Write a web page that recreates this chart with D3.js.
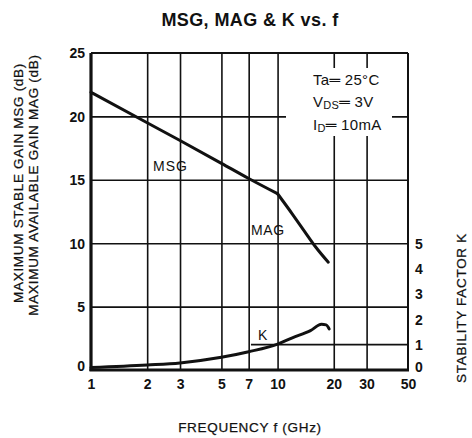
<!DOCTYPE html>
<html>
<head>
<meta charset="utf-8">
<script src="https://cdn.jsdelivr.net/npm/d3@7"></script>
<style>
    body { margin: 0; background: #fff; }
    svg { display: block; font-family: "Liberation Sans", Arial, Helvetica, sans-serif; }
    .tick-label { font-size: 14px; font-weight: bold; fill: #111; }
    .axis-title { font-size: 13.5px; fill: #111; letter-spacing: 0.7px; stroke: #111; stroke-width: 0.25px; }
    .curve { fill: none; stroke: #111; stroke-width: 3px; stroke-linejoin: round; stroke-linecap: round; }
    .grid line { stroke: #111; stroke-width: 1.6px; }
    .note { font-size: 14px; fill: #111; }
    .cond { font-size: 15px; fill: #111; letter-spacing: 0.3px; }
</style>
</head>
<body>
<div id="chart"></div>
<script>

// tick values
const freqTicks = [1, 2, 3, 5, 7, 10, 20, 30, 50];
const gainTicks = [0, 5, 10, 15, 20, 25];
const kTicks = [0, 1, 2, 3, 4, 5];

// MSG (dB) vs frequency (GHz)
const msgFreq = [1, 2, 3, 5, 7, 10];
const msgGain = [21.9, 19.5, 18.1, 16.3, 15.1, 13.9];

// MAG (dB) vs frequency (GHz)
const magFreq = [10, 12, 14, 16, 18.7];
const magGain = [13.9, 12.3, 10.9, 9.7, 8.5];

// stability factor K vs frequency (GHz)
const kFreq = [1, 2, 3, 5, 7, 10, 12, 15, 17.2, 18.2, 18.9];
const kVal = [0.1, 0.2, 0.28, 0.5, 0.72, 1.02, 1.27, 1.55, 1.8, 1.78, 1.62];

// partial reference line at K = 1 starts here (GHz)
const kRefStart = 7.2;

const width = 472, height = 438;
const margin = {top: 53, right: 64, bottom: 68, left: 91};

const svg = d3.select("#chart").append("svg")
    .attr("width", width)
    .attr("height", height);

svg.append("rect").attr("width", width).attr("height", height).attr("fill", "#fff");

const x = d3.scaleLog()
    .domain([1, 50])
    .range([margin.left, width - margin.right]);

const y = d3.scaleLinear()
    .domain([0, 25])
    .range([height - margin.bottom, margin.top]);

// K uses the lower part of the plot: 0..5 over 0..10 dB
const yK = d3.scaleLinear()
    .domain([0, 5])
    .range([y(0), y(10)]);

const plotW = x(50) - x(1);
const plotH = y(0) - y(25);

// vertical grid
svg.append("g")
    .attr("class", "grid")
    .attr("transform", "translate(0," + y(0) + ")")
    .call(d3.axisBottom(x).tickValues(freqTicks.slice(1, -1)).tickSize(-plotH).tickFormat(""))
    .call(g => g.select(".domain").remove());

// horizontal grid
svg.append("g")
    .attr("class", "grid")
    .attr("transform", "translate(" + x(1) + ",0)")
    .call(d3.axisLeft(y).tickValues(gainTicks.slice(1, -1)).tickSize(-plotW).tickFormat(""))
    .call(g => g.select(".domain").remove());

// K = 1 reference segment
svg.append("line")
    .attr("x1", x(kRefStart)).attr("x2", x(50))
    .attr("y1", yK(1)).attr("y2", yK(1))
    .attr("stroke", "#111").attr("stroke-width", 1.6);

// blank area behind the conditions note
svg.append("rect")
    .attr("x", 286).attr("y", 68)
    .attr("width", 106).attr("height", 68)
    .attr("fill", "#fff");

// frame
svg.append("line").attr("x1", x(1)).attr("x2", x(50)).attr("y1", y(25)).attr("y2", y(25))
    .attr("stroke", "#111").attr("stroke-width", 2.2);
svg.append("line").attr("x1", x(50)).attr("x2", x(50)).attr("y1", y(25)).attr("y2", y(0))
    .attr("stroke", "#111").attr("stroke-width", 2);
svg.append("line").attr("x1", x(1)).attr("x2", x(1)).attr("y1", y(25)).attr("y2", y(0) + 1)
    .attr("stroke", "#111").attr("stroke-width", 3.2);
svg.append("line").attr("x1", x(1) - 1.5).attr("x2", x(50) + 1).attr("y1", y(0)).attr("y2", y(0))
    .attr("stroke", "#111").attr("stroke-width", 3.2);

// axis labels
const xAxis = svg.append("g")
    .attr("transform", "translate(0," + y(0) + ")")
    .call(d3.axisBottom(x).tickValues(freqTicks).tickFormat(d3.format("d")).tickSize(0).tickPadding(9));
xAxis.select(".domain").remove();
xAxis.selectAll("text").attr("class", "tick-label").attr("font-size", null).attr("font-family", null);

const yAxis = svg.append("g")
    .attr("transform", "translate(" + x(1) + ",0)")
    .call(d3.axisLeft(y).tickValues(gainTicks).tickSize(0).tickPadding(6));
yAxis.select(".domain").remove();
yAxis.selectAll("text").attr("class", "tick-label").attr("font-size", null).attr("font-family", null)
    .attr("dy", d => d === 0 ? "0.05em" : "0.35em");

const kAxis = svg.append("g")
    .attr("transform", "translate(" + x(50) + ",0)")
    .call(d3.axisRight(yK).tickValues(kTicks).tickFormat(d3.format("d")).tickSize(0).tickPadding(7));
kAxis.select(".domain").remove();
kAxis.selectAll("text").attr("class", "tick-label").attr("font-size", null).attr("font-family", null)
    .attr("dy", d => d === 0 ? "0.1em" : "0.35em");

// curves
const line = d3.line()
    .x(d => x(d[0]))
    .y(d => d[1])
    .curve(d3.curveMonotoneX);

svg.append("path")
    .attr("class", "curve")
    .attr("d", line(msgFreq.map((f, i) => [f, y(msgGain[i])])));

svg.append("path")
    .attr("class", "curve")
    .attr("d", line(magFreq.map((f, i) => [f, y(magGain[i])])));

svg.append("path")
    .attr("class", "curve")
    .attr("d", line(kFreq.map((f, i) => [f, yK(kVal[i])])));

// curve labels
svg.append("text").attr("class", "note").attr("x", 153).attr("y", 171)
    .attr("letter-spacing", "1px").text("MSG");
svg.append("text").attr("class", "note").attr("x", 251).attr("y", 235)
    .attr("letter-spacing", "0.6px").text("MAG");
svg.append("text").attr("class", "note").attr("x", 258).attr("y", 340).text("K");

// conditions
const note = svg.append("g").attr("class", "cond");
note.append("text").attr("x", 313).attr("y", 85).text("Ta\u2550 25\u00b0C");
const vds = note.append("text").attr("x", 313).attr("y", 107);
vds.append("tspan").text("V");
vds.append("tspan").attr("font-size", "11px").attr("dy", 2).text("DS");
vds.append("tspan").attr("dy", -2).text("\u2550 3V");
const idl = note.append("text").attr("x", 313).attr("y", 130);
idl.append("tspan").text("I");
idl.append("tspan").attr("font-size", "11px").attr("dy", 2).text("D");
idl.append("tspan").attr("dy", -2).text("\u2550 10mA");

// title
svg.append("text")
    .attr("x", 250).attr("y", 26)
    .attr("text-anchor", "middle")
    .attr("font-size", "18px").attr("font-weight", "bold").attr("fill", "#111")
    .attr("letter-spacing", "0.4px")
    .text("MSG, MAG & K vs. f");

// axis titles
svg.append("text").attr("class", "axis-title")
    .attr("text-anchor", "middle")
    .attr("transform", "translate(23,183) rotate(-90)")
    .text("MAXIMUM STABLE GAIN MSG (dB)");
svg.append("text").attr("class", "axis-title")
    .attr("text-anchor", "middle")
    .attr("transform", "translate(38,185) rotate(-90)")
    .text("MAXIMUM AVAILABLE GAIN MAG (dB)");
svg.append("text").attr("class", "axis-title")
    .attr("text-anchor", "middle")
    .attr("transform", "translate(466,308) rotate(-90)")
    .text("STABILITY FACTOR K");
svg.append("text").attr("class", "axis-title")
    .attr("text-anchor", "middle")
    .attr("x", 250).attr("y", 432)
    .text("FREQUENCY f (GHz)");

</script>
</body>
</html>
